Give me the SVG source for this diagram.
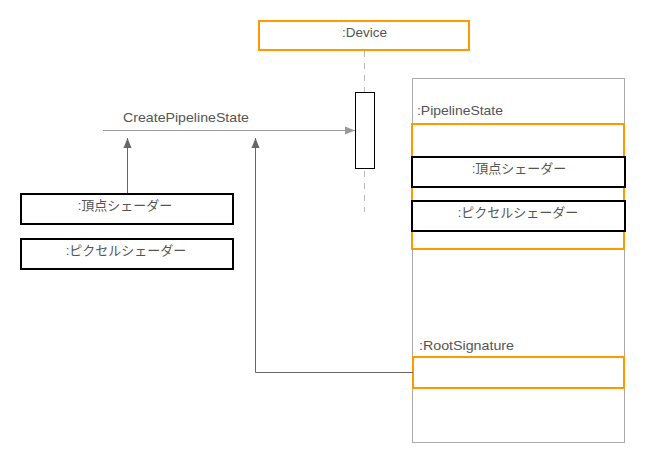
<svg xmlns="http://www.w3.org/2000/svg" width="647" height="464" viewBox="0 0 647 464">
<style>
text{font-family:"Liberation Sans","Noto Sans CJK JP",sans-serif;font-size:13px;fill:#555}
.c{text-anchor:middle}
.org{fill:none;stroke:#f90;stroke-width:2}
.blk{fill:#fff;stroke:#000;stroke-width:2}
</style>
<defs>
<marker id="ag" viewBox="0 0 10 10" refX="10" refY="5" markerWidth="10" markerHeight="10" markerUnits="userSpaceOnUse" orient="auto"><path d="M0,1 L10,5 L0,9 Z" fill="#999"/></marker>
<marker id="ad" viewBox="0 0 10 10" refX="10" refY="5" markerWidth="10" markerHeight="10" markerUnits="userSpaceOnUse" orient="auto"><path d="M0,1 L10,5 L0,9 Z" fill="#666"/></marker>
</defs>
<g id="pipelineContainer">
<rect x="412.5" y="78.5" width="212" height="364" fill="#fff" stroke="#aaa"/>
</g>
<g id="device">
<rect class="org" x="259" y="21" width="210" height="29" fill="#fff"/>
<text x="342" y="37" textLength="45" lengthAdjust="spacingAndGlyphs">:Device</text>
</g>
<g id="lifeline">
<line x1="364.5" y1="51" x2="364.5" y2="212" stroke="#bbb" stroke-dasharray="6,6"/>
<rect x="355.5" y="92.5" width="19" height="76" fill="#fff" stroke="#000"/>
</g>
<g id="pipelineState">
<text x="417" y="115" textLength="86" lengthAdjust="spacingAndGlyphs">:PipelineState</text>
<rect class="org" x="412" y="124" width="212" height="125"/>
</g>
<g id="psVertex">
<rect class="blk" x="412" y="157" width="213" height="30"/>
<text class="c" x="519" y="173">:頂点シェーダー</text>
</g>
<g id="psPixel">
<rect class="blk" x="412" y="201" width="213" height="30"/>
<text class="c" x="518" y="217">:ピクセルシェーダー</text>
</g>
<g id="rootSignature">
<text x="419" y="350" textLength="95" lengthAdjust="spacingAndGlyphs">:RootSignature</text>
<rect class="org" x="413" y="357" width="211" height="31"/>
</g>
<g id="vertexShader">
<rect class="blk" x="21" y="194" width="212" height="30"/>
<text class="c" x="125" y="210">:頂点シェーダー</text>
</g>
<g id="pixelShader">
<rect class="blk" x="21" y="239" width="212" height="30"/>
<text class="c" x="126" y="255">:ピクセルシェーダー</text>
</g>
<g id="connectors">
<line x1="103" y1="130.5" x2="355" y2="130.5" stroke="#999" marker-end="url(#ag)"/>
<text x="123" y="122" textLength="126" lengthAdjust="spacingAndGlyphs">CreatePipelineState</text>
<line x1="127.5" y1="193" x2="127.5" y2="138" stroke="#666" marker-end="url(#ad)"/>
<polyline points="413,372.5 255.5,372.5 255.5,138" fill="none" stroke="#666" marker-end="url(#ad)"/>
</g>
</svg>
